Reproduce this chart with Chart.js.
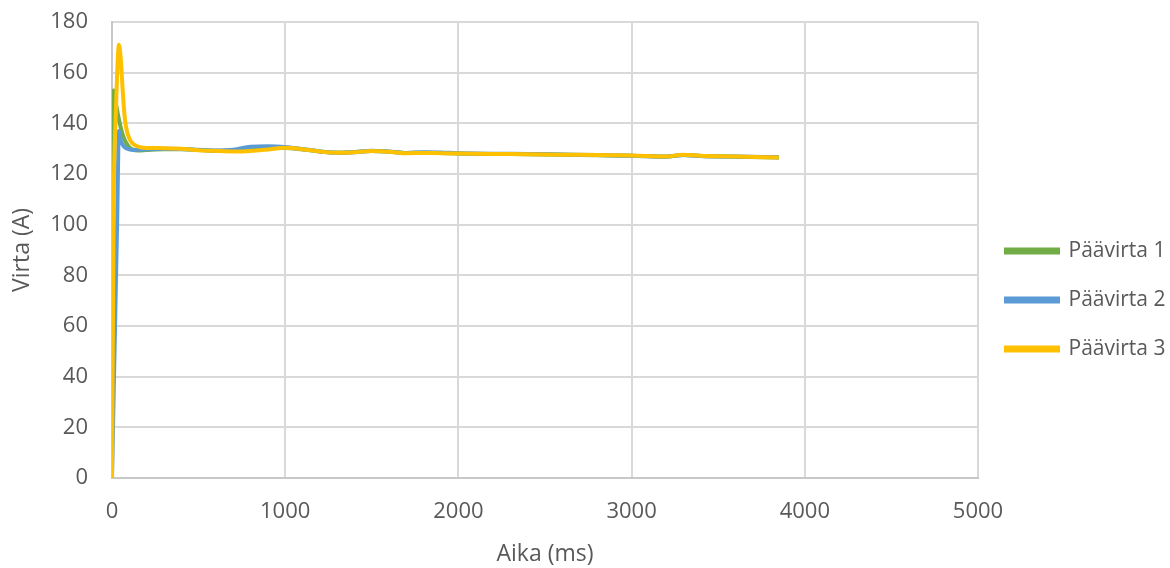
<!DOCTYPE html>
<html>
<head>
<meta charset="utf-8">
<script src="https://cdn.jsdelivr.net/npm/chart.js@4"></script>
<style>
  body { margin: 0; background: #fff; }
  #wrap { width: 1170px; height: 568px; }
</style>
</head>
<body>
<div id="wrap"><canvas id="virta"></canvas></div>
<script>
// aika (ms)
var aika = [0, 10, 20, 30, 40, 50, 60, 70, 80, 100, 120, 150, 200, 300, 400, 500, 600, 700, 800, 900,
    1000, 1100, 1200, 1300, 1400, 1500, 1600, 1700, 1800, 1900, 2000, 2200, 2400, 2600, 2800, 3000,
    3200, 3300, 3400, 3600, 3850];

var paavirta1 = [0, 153, 149, 145, 141.5, 138.5, 136, 134, 132.5, 130.5,
    129.6, 129.3, 129.5, 129.8, 129.8, 129.5, 129.2, 129.2, 129.8, 130.2,
    130.3, 129.7, 128.9, 128.5, 128.7, 129.1, 128.8, 128.3, 128.4, 128.3,
    128.1, 127.9, 127.8, 127.6, 127.4, 127.2, 126.9, 127.5, 127.1, 126.8, 126.5];

var paavirta2 = [0, 34, 68, 102, 137, 133.5, 131.8, 130.8, 130.2, 129.7,
    129.5, 129.6, 129.8, 130, 129.9, 129.6, 129.3, 129.6, 130.8, 131,
    130.7, 129.9, 128.9, 128.3, 128.6, 129.2, 128.9, 128.3, 128.6, 128.5,
    128.2, 128, 127.9, 127.7, 127.5, 127.2, 126.8, 127.5, 127.1, 126.9, 126.6];

var paavirta3 = [0, 110, 140, 160, 171, 166, 155, 145, 139, 134,
    132, 130.8, 130.3, 130.2, 130, 129.4, 129.1, 128.9, 129.1, 129.7,
    130.4, 129.8, 128.9, 128.4, 128.6, 129.1, 128.8, 128.2, 128.3, 128.2,
    128.1, 127.9, 127.8, 127.6, 127.5, 127.3, 126.9, 127.6, 127.2, 126.9, 126.5];

var nimet = ['Päävirta 1', 'Päävirta 2', 'Päävirta 3'];
var xTicks = [0, 1000, 2000, 3000, 4000, 5000];

function pisteet(arr) {
    return aika.map(function (t, i) { return { x: t, y: arr[i] }; });
}

// nudge the legend down a bit, like in the excel original
var legendShift = {
    id: 'legendShift',
    afterLayout: function (chart) {
        chart.legend.top += 5;
        chart.legend.bottom += 5;
    }
};

var grey = '#595959';
var ctx = document.getElementById('virta').getContext('2d');
var chart = new Chart(ctx, {
    type: 'line',
    data: {
        datasets: [{
            label: nimet[0],
            data: pisteet(paavirta1),
            borderColor: '#70AD47',
            backgroundColor: '#70AD47',
            order: 3
        }, {
            label: nimet[1],
            data: pisteet(paavirta2),
            borderColor: '#5B9BD5',
            backgroundColor: '#5B9BD5',
            order: 2
        }, {
            label: nimet[2],
            data: pisteet(paavirta3),
            borderColor: '#FFC000',
            backgroundColor: '#FFC000',
            order: 1
        }]
    },
    plugins: [legendShift],
    options: {
        responsive: true,
        maintainAspectRatio: false,
        animation: false,
        elements: {
            point: { radius: 0 },
            line: { borderWidth: 4, cubicInterpolationMode: 'monotone' }
        },
        layout: { padding: { top: 22, right: 0, left: 0, bottom: 0 } },
        scales: {
            x: {
                type: 'linear',
                min: 0,
                max: 5000,
                afterBuildTicks: function (s) {
                    s.ticks = xTicks.map(function (v) { return { value: v }; });
                },
                afterFit: function (s) { s.height = 90; },
                grid: { color: '#d9d9d9', lineWidth: 2, drawTicks: false },
                border: { color: '#c8c8c8', width: 2 },
                ticks: {
                    color: grey, font: { family: 'Open Sans', size: 22 }, padding: 21, maxRotation: 0,
                    callback: function (v) { return String(v); }
                },
                title: { display: true, text: 'Aika (ms)', color: grey, font: { family: 'Open Sans', size: 23 }, padding: { top: 4, bottom: 0 } }
            },
            y: {
                min: 0,
                max: 180,
                ticks: { stepSize: 20, color: grey, font: { family: 'Open Sans', size: 22 }, padding: 24 },
                afterFit: function (s) {
                    s.width = 112;
                    s.paddingTop = 0;
                    s.paddingBottom = 0;
                },
                grid: { color: '#d9d9d9', lineWidth: 2, drawTicks: false },
                border: { color: '#c8c8c8', width: 2 },
                title: { display: true, text: 'Virta (A)', color: grey, font: { family: 'Open Sans', size: 23 }, padding: { top: 9, bottom: 0 } }
            }
        },
        plugins: {
            legend: {
                position: 'right',
                maxWidth: 192,
                labels: {
                    color: grey,
                    font: { family: 'Open Sans', size: 21 },
                    boxWidth: 52,
                    boxHeight: 3,
                    padding: 28,
                    sort: function (a, b) { return a.datasetIndex - b.datasetIndex; }
                }
            },
            tooltip: { enabled: false }
        }
    }
});
</script>
</body>
</html>
